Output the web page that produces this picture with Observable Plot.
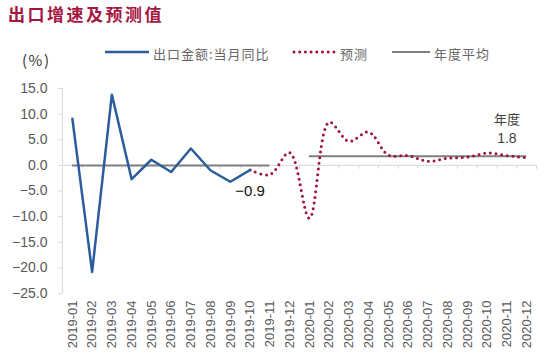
<!DOCTYPE html>
<html>
<head>
<meta charset="utf-8">
<script src="https://cdn.jsdelivr.net/npm/d3@7"></script>
<script src="https://cdn.jsdelivr.net/npm/@observablehq/plot@0.6"></script>
<style>
  body { margin: 0; background: #fff; font-family: "Liberation Sans", "Noto Sans CJK SC", sans-serif; }
  #head { position: relative; width: 550px; height: 70px; }
  #title { position: absolute; left: 8px; top: 1px; font-family: "Noto Sans CJK SC", sans-serif; font-weight: 700; font-size: 17px; letter-spacing: 2.5px; color: #a3173f; }
  #unit { position: absolute; left: 22px; top: 49px; font-size: 15px; letter-spacing: 1.5px; color: #333; font-family: "Noto Sans CJK SC", sans-serif; }
  .lg { position: absolute; top: 44px; font-family: "Noto Sans CJK SC", sans-serif; font-size: 13px; color: #666; letter-spacing: 1px; }
  .sw { position: absolute; top: 47px; }
</style>
</head>
<body>
<div id="head">
  <div id="title">出口增速及预测值</div>
  <div id="unit">(%)</div>
  <svg class="sw" style="left:104px" width="46" height="10"><line x1="1" x2="45" y1="5" y2="5" stroke="#2b5d9c" stroke-width="2.5"/></svg>
  <div class="lg" style="left:153px">出口金额:当月同比</div>
  <svg class="sw" style="left:292px" width="44" height="10"><line x1="2" x2="42" y1="5" y2="5" stroke="#a0123f" stroke-width="3" stroke-dasharray="0 5.7" stroke-linecap="round"/></svg>
  <div class="lg" style="left:340px">预测</div>
  <svg class="sw" style="left:391px" width="40" height="10"><line x1="1" x2="39" y1="5" y2="5" stroke="#7f7f7f" stroke-width="2"/></svg>
  <div class="lg" style="left:434px">年度平均</div>
</div>
<div id="chart"></div>
<script>
const months = ["2019-01","2019-02","2019-03","2019-04","2019-05","2019-06","2019-07","2019-08","2019-09","2019-10","2019-11","2019-12",
                "2020-01","2020-02","2020-03","2020-04","2020-05","2020-06","2020-07","2020-08","2020-09","2020-10","2020-11","2020-12"];
// actual: 出口金额:当月同比 (2019-01 .. 2019-10)
const actualMonths = ["2019-01","2019-02","2019-03","2019-04","2019-05","2019-06","2019-07","2019-08","2019-09","2019-10"];
const actualValues = [9.1, -20.8, 13.8, -2.7, 1.1, -1.3, 3.3, -1.0, -3.2, -0.9];
// forecast: 预测 (2019-10 .. 2020-12)
const forecastMonths = ["2019-10","2019-11","2019-12","2020-01","2020-02","2020-03","2020-04","2020-05","2020-06","2020-07","2020-08","2020-09","2020-10","2020-11","2020-12"];
const forecastValues = [-0.9, -1.8, 2.5, -10.3, 8.4, 4.7, 6.5, 2.0, 1.9, 0.8, 1.4, 1.6, 2.4, 1.9, 1.5];
// 年度平均
const avgStart = ["2019-01","2020-01"];
const avgEnd = ["2019-11","2020-12"];
const avgValues = [0.0, 1.8];
const yTicks = [-25, -20, -15, -10, -5, 0, 5, 10, 15];

const idx = m => months.indexOf(m);
const actual = actualMonths.map((m, i) => ({i: idx(m), v: actualValues[i]}));
const forecast = forecastMonths.map((m, i) => ({i: idx(m), v: forecastValues[i]}));
const avg = avgValues.map((v, k) => ({x1: idx(avgStart[k]), x2: idx(avgEnd[k]), v}));
const boundaries = d3.range(months.length + 1).map(i => i - 0.5);
const lastActual = actual[actual.length - 1];
const lastAvg = avg[avg.length - 1];

const chart = Plot.plot({
  width: 550,
  height: 286,
  marginTop: 18,
  marginBottom: 63,
  marginLeft: 62,
  marginRight: 14,
  style: {fontFamily: "'Liberation Sans', 'Noto Sans CJK SC', sans-serif", fontSize: "12px", color: "#595959", background: "#fff"},
  x: {domain: [-0.5, months.length - 0.5]},
  y: {domain: [-25, 15]},
  marks: [
    Plot.axisY({ticks: yTicks, tickFormat: d3.format(".1f"), tickSize: 4, tickPadding: 11, stroke: "#d9d9d9", fill: "#595959", fontSize: 14, label: null}),
    Plot.ruleX([boundaries[0]], {y1: -25, y2: 15, stroke: "#d9d9d9"}),
    Plot.ruleY([0], {stroke: "#d9d9d9"}),
    Plot.ruleX(boundaries, {y1: 0, y2: 0, insetBottom: -4, stroke: "#d9d9d9"}),
    Plot.axisX({ticks: d3.range(months.length), tickFormat: i => months[i], tickRotate: -90, tickSize: 0, tickPadding: 7, fill: "#595959", fontSize: 13, label: null}),
    Plot.ruleY(avg, {y: "v", x1: "x1", x2: "x2", stroke: "#7f7f7f", strokeWidth: 2}),
    Plot.line(forecast, {x: "i", y: "v", curve: "catmull-rom", stroke: "#a0123f", strokeWidth: 3, strokeDasharray: "0 5.7", strokeLinecap: "round"}),
    Plot.line(actual, {x: "i", y: "v", stroke: "#2b5d9c", strokeWidth: 2.5}),
    Plot.text([lastActual], {x: "i", y: "v", text: d => d3.format(".1f")(d.v), dy: 21, fontSize: 15, fill: "#111"}),
    Plot.text([lastAvg], {x: d => d.x2 - 1, y: "v", text: d => "年度", dy: -36, fontSize: 13, fill: "#404040", fontFamily: "'Noto Sans CJK SC', sans-serif"}),
    Plot.text([lastAvg], {x: d => d.x2 - 1, y: "v", text: d => d3.format(".1f")(d.v), dy: -18, fontSize: 14, fill: "#404040"})
  ]
});
document.getElementById("chart").appendChild(chart);
</script>
</body>
</html>
